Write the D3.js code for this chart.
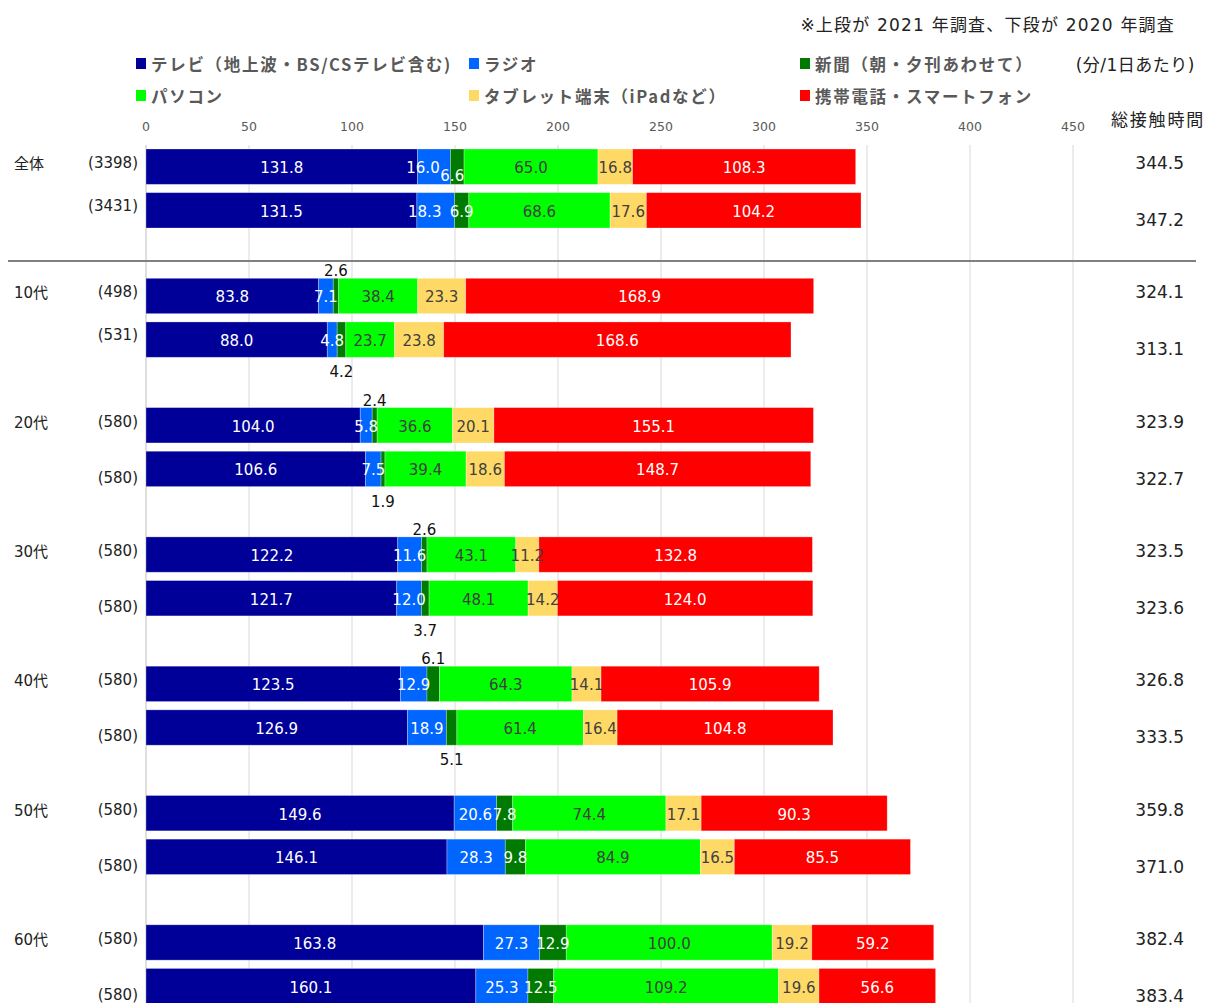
<!DOCTYPE html>
<html><head><meta charset="utf-8">
<script src="https://cdn.jsdelivr.net/npm/d3@7"></script>
<style>
body{margin:0;background:#fff;}
text{font-family:"DejaVu Sans","Noto Sans CJK JP",sans-serif;}
</style></head>
<body><svg id="c" width="1208" height="1003"></svg>
<script>
const groups = ["全体","10代","20代","30代","40代","50代","60代"];
const years = ["2021","2020"];
const n2021 = [3398,498,580,580,580,580,580];
const n2020 = [3431,531,580,580,580,580,580];
const tv2021 = [131.8,83.8,104.0,122.2,123.5,149.6,163.8];
const tv2020 = [131.5,88.0,106.6,121.7,126.9,146.1,160.1];
const radio2021 = [16.0,7.1,5.8,11.6,12.9,20.6,27.3];
const radio2020 = [18.3,4.8,7.5,12.0,18.9,28.3,25.3];
const news2021 = [6.6,2.6,2.4,2.6,6.1,7.8,12.9];
const news2020 = [6.9,4.2,1.9,3.7,5.1,9.8,12.5];
const pc2021 = [65.0,38.4,36.6,43.1,64.3,74.4,100.0];
const pc2020 = [68.6,23.7,39.4,48.1,61.4,84.9,109.2];
const tab2021 = [16.8,23.3,20.1,11.2,14.1,17.1,19.2];
const tab2020 = [17.6,23.8,18.6,14.2,16.4,16.5,19.6];
const phone2021 = [108.3,168.9,155.1,132.8,105.9,90.3,59.2];
const phone2020 = [104.2,168.6,148.7,124.0,104.8,85.5,56.6];
const total2021 = [344.5,324.1,323.9,323.5,326.8,359.8,382.4];
const total2020 = [347.2,313.1,322.7,323.6,333.5,371.0,383.4];
const seriesKeys = ["tv","radio","news","pc","tab","phone"];
const seriesNames = ["テレビ（地上波・BS/CSテレビ含む)","ラジオ","新聞（朝・夕刊あわせて）","パソコン","タブレット端末（iPadなど）","携帯電話・スマートフォン"];
const seriesColors = ["#000099","#0066FF","#007A00","#00FF00","#FFD966","#FF0000"];
const labelColors = ["#ffffff","#ffffff","#ffffff","#404040","#404040","#ffffff"];
const ticks = [0,50,100,150,200,250,300,350,400,450];

const rows = [];
groups.forEach((g,i)=>{
  rows.push({group:g,year:"2021",n:n2021[i],total:total2021[i],tv:tv2021[i],radio:radio2021[i],news:news2021[i],pc:pc2021[i],tab:tab2021[i],phone:phone2021[i]});
  rows.push({group:g,year:"2020",n:n2020[i],total:total2020[i],tv:tv2020[i],radio:radio2020[i],news:news2020[i],pc:pc2020[i],tab:tab2020[i],phone:phone2020[i]});
});

const svg = d3.select("#c");
const x = d3.scaleLinear().domain([0,450]).range([146,1073]);
const yG = d3.scaleBand().domain(groups).range([149,149+7*129.3]).paddingInner(0).paddingOuter(0);
const yY = d3.scaleBand().domain(years).range([0,79]).paddingInner(0.19);
const barY = r => yG(r.group)+yY(r.year);
const bh = yY.bandwidth();

// top note
svg.append("text").attr("x",1175).attr("y",25).attr("text-anchor","end").attr("dominant-baseline","central")
  .attr("font-size",17).attr("letter-spacing",1.2).attr("fill","#222").text("※上段が 2021 年調査、下段が 2020 年調査");
svg.append("text").attr("x",1195).attr("y",65).attr("text-anchor","end").attr("dominant-baseline","central")
  .attr("font-size",17).attr("letter-spacing",0.5).attr("fill","#222").text("(分/1日あたり)");
svg.append("text").attr("x",1205).attr("y",120).attr("text-anchor","end").attr("dominant-baseline","central")
  .attr("font-size",17).attr("letter-spacing",1.8).attr("fill","#222").text("総接触時間");

// legend
const legX = [136,469,800];
const legY = [63,95];
seriesKeys.forEach((k,i)=>{
  const lx = legX[i%3], ly = legY[Math.floor(i/3)];
  svg.append("rect").attr("x",lx).attr("y",ly-5).attr("width",10).attr("height",11).attr("fill",seriesColors[i]);
  svg.append("text").attr("x",lx+15).attr("y",ly+1).attr("dominant-baseline","central")
    .style("font-family",'"Noto Sans CJK JP",sans-serif')
    .attr("font-size",16.5).attr("letter-spacing",1.7).attr("font-weight","bold").attr("fill","#595959").text(seriesNames[i]);
});

// grid
svg.append("g").selectAll("line").data(ticks).join("line")
  .attr("x1",d=>x(d)).attr("x2",d=>x(d)).attr("y1",145).attr("y2",1003)
  .attr("stroke",d=>d===0?"#bfbfbf":"#d9d9d9").attr("stroke-width",1);
svg.append("g").selectAll("text").data(ticks).join("text")
  .attr("x",d=>x(d)).attr("y",126).attr("text-anchor","middle").attr("dominant-baseline","central")
  .attr("font-size",12.5).attr("fill","#595959").text(d=>d);

// separator
svg.append("line").attr("x1",8).attr("x2",1196).attr("y1",261).attr("y2",261)
  .attr("stroke","#808080").attr("stroke-width",2);

// bars
const stack = d3.stack().keys(seriesKeys)(rows);
stack.forEach((s,si)=>{
  const g = svg.append("g");
  g.selectAll("rect").data(s).join("rect")
    .attr("x",d=>x(d[0])).attr("width",d=>x(d[1])-x(d[0]))
    .attr("y",d=>barY(d.data)).attr("height",bh)
    .attr("fill",seriesColors[si])
    .attr("stroke","rgba(255,255,255,0.35)").attr("stroke-width",0.8);
});
// labels
const radioCenter = r => (x(r.tv)+x(r.tv+r.radio))/2;
const newsCenter = r => (x(r.tv+r.radio)+x(r.tv+r.radio+r.news))/2;
const crowded = (r,lim) => r.news>=6.5 && newsCenter(r)-radioCenter(r) < lim;
stack.forEach((s,si)=>{
  const key = seriesKeys[si];
  svg.append("g").selectAll("text").data(s).join("text")
    .attr("x",d=>{
      const cx=(x(d[0])+x(d[1]))/2;
      if(key==="radio" && crowded(d.data,27)) return cx-11;
      if(key==="news" && crowded(d.data,25)) return cx-5;
      return cx;
    })
    .attr("y",d=>{
      const v = d.data[key];
      if(key==="news" && v<6.5){
        return d.data.year==="2021" ? barY(d.data)-7 : barY(d.data)+bh+15;
      }
      if(key==="news" && crowded(d.data,25)) return barY(d.data)+bh/2+9;
      return barY(d.data)+bh/2+1.5;
    })
    .attr("text-anchor","middle").attr("dominant-baseline","central")
    .attr("font-size",15)
    .attr("fill",d=>(key==="news" && d.data[key]<6.5)?"#111":labelColors[si])
    .text(d=>d.data[key].toFixed(1));
});

// left labels
groups.forEach((g,i)=>{
  svg.append("text").attr("x",14).attr("y",yG(g)+15).attr("dominant-baseline","central")
    .attr("font-size",15).attr("fill","#222").text(g);
});
rows.forEach(r=>{
  const gi = groups.indexOf(r.group);
  const off = r.year==="2021" ? 14 : (gi<2 ? 57 : 70);
  svg.append("text").attr("x",138).attr("y",yG(r.group)+off).attr("text-anchor","end")
    .attr("dominant-baseline","central").attr("font-size",15).attr("fill","#222")
    .text("("+r.n+")");
  const toff = r.year==="2021" ? 14 : 71;
  svg.append("text").attr("x",1184).attr("y",yG(r.group)+toff).attr("text-anchor","end")
    .attr("dominant-baseline","central").attr("font-size",17).attr("fill","#222")
    .text(r.total.toFixed(1));
});
</script></body></html>
